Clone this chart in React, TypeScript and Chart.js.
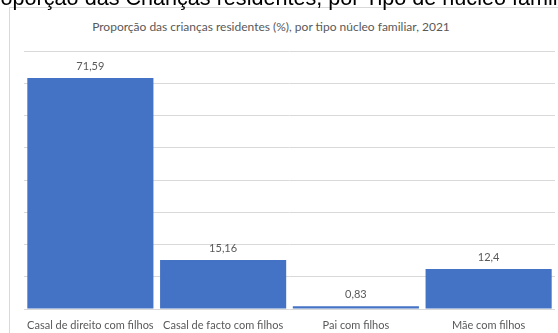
import React, { useEffect, useRef } from "react";
import { Chart, registerables } from "chart.js";

Chart.register(...registerables);

const categories = [
  "Casal de direito com filhos",
  "Casal de facto com filhos",
  "Pai com filhos",
  "Mãe com filhos",
];
const values = [71.59, 15.16, 0.83, 12.4];
const valueLabels = ["71,59", "15,16", "0,83", "12,4"];
const chartTitle = "Proporção das crianças residentes (%), por tipo núcleo familiar, 2021";
const pageHeading = "Proporção das Crianças residentes, por Tipo de núcleo familiar, 2021";

const dataLabelPlugin = {
  id: "dataLabels",
  afterDatasetsDraw(chart: any) {
    const ctx = chart.ctx;
    const meta = chart.getDatasetMeta(0);
    ctx.save();
    ctx.font = "11px Lato";
    ctx.fillStyle = "#595959";
    ctx.textAlign = "center";
    ctx.textBaseline = "alphabetic";
    meta.data.forEach((bar: any, i: number) => {
      ctx.fillText(valueLabels[i], bar.x, bar.y - 8);
    });
    ctx.restore();
  },
};

export default function App() {
  const ref = useRef<HTMLCanvasElement>(null);
  useEffect(() => {
    if (!ref.current) return;
    const chart = new Chart(ref.current, {
      type: "bar",
      data: {
        labels: categories,
        datasets: [
          {
            data: values,
            backgroundColor: "#4472C4",
            borderWidth: 0,
            barPercentage: 0.95,
            categoryPercentage: 1,
          },
        ],
      },
      options: {
        animation: false,
        responsive: false,
        maintainAspectRatio: false,
        layout: { padding: { left: 24, right: 3, top: 51, bottom: 0 } },
        plugins: {
          legend: { display: false },
          title: { display: false },
          tooltip: { enabled: false },
        },
        scales: {
          x: {
            grid: { display: false, drawTicks: false },
            border: { display: false },
            afterFit: (scale: any) => {
              scale.height = 24;
            },
            ticks: {
              color: "#595959",
              font: { family: "Lato", size: 11 },
              padding: 10,
              maxRotation: 0,
              autoSkip: false,
            },
          },
          y: {
            min: 0,
            max: 80,
            grid: { color: "#d9d9d9", lineWidth: 1, drawTicks: false, tickLength: 0 },
            border: { display: false },
            ticks: { display: false, stepSize: 10 },
          },
        },
      },
      plugins: [dataLabelPlugin],
    });
    return () => chart.destroy();
  }, []);

  return (
    <div
      style={{
        position: "fixed",
        left: 0,
        top: 0,
        width: 558,
        height: 333,
        overflow: "hidden",
        background: "#fff",
      }}
    >
      <div
        style={{
          position: "absolute",
          left: -21,
          top: -14,
          whiteSpace: "nowrap",
          fontFamily: "'Liberation Sans', Arial, sans-serif",
          fontSize: 21.6,
          lineHeight: "24px",
          color: "#000",
          zIndex: 5,
        }}
      >
        {pageHeading}
      </div>
      <div
        style={{
          position: "absolute",
          left: 9,
          top: 7,
          width: 600,
          height: 400,
          border: "1px solid #d9d9d9",
        }}
      />
      <div
        style={{
          position: "absolute",
          left: 71,
          width: 400,
          top: 19,
          textAlign: "center",
          fontFamily: "Lato",
          fontSize: 12,
          lineHeight: "16px",
          color: "#595959",
          whiteSpace: "nowrap",
        }}
      >
        {chartTitle}
      </div>
      <canvas
        ref={ref}
        width={558}
        height={333}
        style={{ position: "absolute", left: 0, top: 0, width: 558, height: 333 }}
      />
    </div>
  );
}
